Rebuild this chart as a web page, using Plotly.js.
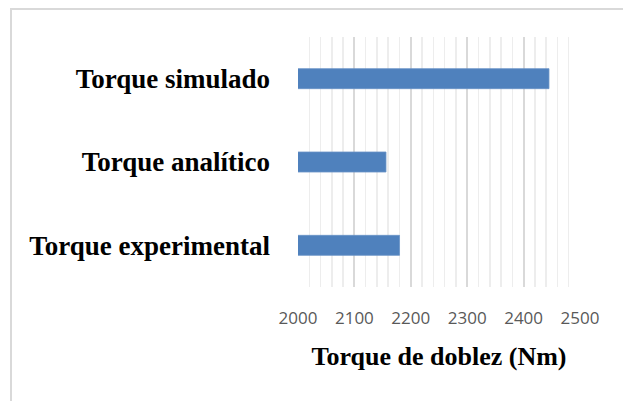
<!DOCTYPE html>
<html>
<head>
<meta charset="utf-8">
<script src="https://cdn.plot.ly/plotly-3.0.1.min.js"></script>
<style>
  body { margin: 0; background: #fff; }
  #frame { position: absolute; left: 10px; top: 8px; width: 640px; height: 420px;
           border-left: 2px solid #d9d9d9; border-top: 2px solid #d9d9d9; }
  #tester { position: absolute; left: 0; top: 0; width: 623px; height: 401px; }
</style>
</head>
<body>
<div id="frame"></div>
<div id="tester"></div>
<script>
myDiv = document.getElementById('tester')

var categories = ['Torque experimental', 'Torque analítico', 'Torque simulado'];
var torque = [2180, 2156, 2445];
var tickVals = [2000, 2100, 2200, 2300, 2400, 2500];

var data = [
  {
    x: torque,
    y: categories,
    type: 'bar',
    orientation: 'h',
    marker: {
      color: '#4f81bd',
      line: {color: '#6a93c6', width: 0.8}
    },
    hoverinfo: 'x'
  }
];

var layout = {
  width: 623,
  height: 401,
  margin: {l: 298, r: 43, t: 37, b: 114},
  paper_bgcolor: 'rgba(0,0,0,0)',
  plot_bgcolor: 'rgba(0,0,0,0)',
  bargap: 0.76,
  showlegend: false,
  xaxis: {
    range: [2000, 2500],
    tickvals: tickVals,
    showgrid: true,
    gridcolor: '#d9d9d9',
    gridwidth: 2,
    minor: {dtick: 20, showgrid: true, gridcolor: '#ededed', gridwidth: 1.5},
    zeroline: false,
    showline: false,
    ticks: '',
    ticklabelstandoff: 19,
    tickfont: {family: 'Open Sans', size: 17, color: '#595959'},
    title: {
      text: '<b>Torque de doblez (Nm)</b>',
      font: {family: 'Liberation Serif', size: 26, color: '#000'},
      standoff: 18
    }
  },
  yaxis: {
    showgrid: false,
    zeroline: false,
    showline: false,
    ticks: '',
    ticklabelstandoff: 27,
    tickfont: {family: 'Liberation Serif', size: 27, color: '#000', weight: 'bold'}
  }
};

Plotly.newPlot(myDiv, data, layout, {displayModeBar: false, staticPlot: true});
</script>
</body>
</html>
